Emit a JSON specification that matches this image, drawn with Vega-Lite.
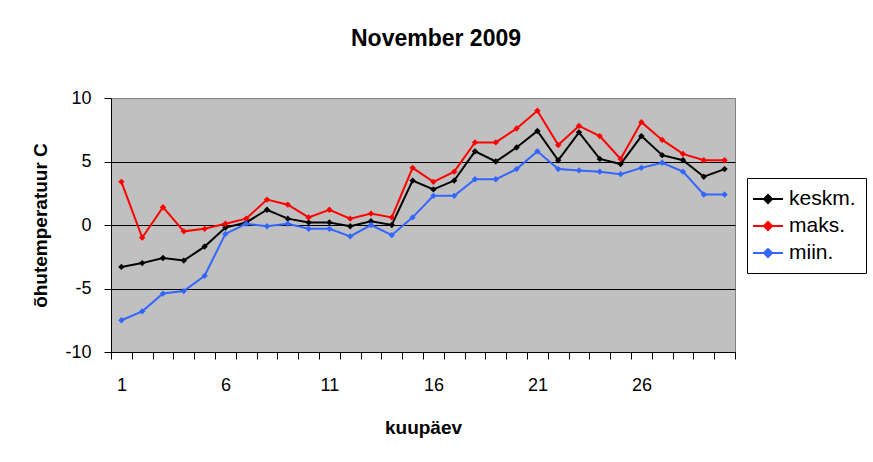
{
  "$schema": "https://vega.github.io/schema/vega-lite/v6.json",
  "autosize": "none",
  "width": 624,
  "height": 254,
  "padding": {"left": 111, "top": 98, "right": 138, "bottom": 110},
  "background": "white",
  "title": {
    "text": "November 2009",
    "font": "Liberation Sans",
    "fontSize": 23,
    "fontWeight": "bold",
    "color": "black",
    "anchor": "middle",
    "dx": 13,
    "offset": 38
  },
  "data": {
    "values": [
      {"day": 1, "series": "keskm.", "temp": -3.3}, {"day": 1, "series": "maks.", "temp": 3.4}, {"day": 1, "series": "miin.", "temp": -7.5},
      {"day": 2, "series": "keskm.", "temp": -3.0}, {"day": 2, "series": "maks.", "temp": -1.0}, {"day": 2, "series": "miin.", "temp": -6.8},
      {"day": 3, "series": "keskm.", "temp": -2.6}, {"day": 3, "series": "maks.", "temp": 1.4}, {"day": 3, "series": "miin.", "temp": -5.4},
      {"day": 4, "series": "keskm.", "temp": -2.8}, {"day": 4, "series": "maks.", "temp": -0.5}, {"day": 4, "series": "miin.", "temp": -5.2},
      {"day": 5, "series": "keskm.", "temp": -1.7}, {"day": 5, "series": "maks.", "temp": -0.3}, {"day": 5, "series": "miin.", "temp": -4.0},
      {"day": 6, "series": "keskm.", "temp": -0.2}, {"day": 6, "series": "maks.", "temp": 0.1}, {"day": 6, "series": "miin.", "temp": -0.7},
      {"day": 7, "series": "keskm.", "temp": 0.2}, {"day": 7, "series": "maks.", "temp": 0.5}, {"day": 7, "series": "miin.", "temp": 0.1},
      {"day": 8, "series": "keskm.", "temp": 1.2}, {"day": 8, "series": "maks.", "temp": 2.0}, {"day": 8, "series": "miin.", "temp": -0.1},
      {"day": 9, "series": "keskm.", "temp": 0.5}, {"day": 9, "series": "maks.", "temp": 1.6}, {"day": 9, "series": "miin.", "temp": 0.1},
      {"day": 10, "series": "keskm.", "temp": 0.2}, {"day": 10, "series": "maks.", "temp": 0.6}, {"day": 10, "series": "miin.", "temp": -0.3},
      {"day": 11, "series": "keskm.", "temp": 0.2}, {"day": 11, "series": "maks.", "temp": 1.2}, {"day": 11, "series": "miin.", "temp": -0.3},
      {"day": 12, "series": "keskm.", "temp": -0.1}, {"day": 12, "series": "maks.", "temp": 0.5}, {"day": 12, "series": "miin.", "temp": -0.9},
      {"day": 13, "series": "keskm.", "temp": 0.3}, {"day": 13, "series": "maks.", "temp": 0.9}, {"day": 13, "series": "miin.", "temp": 0.0},
      {"day": 14, "series": "keskm.", "temp": 0.0}, {"day": 14, "series": "maks.", "temp": 0.6}, {"day": 14, "series": "miin.", "temp": -0.8},
      {"day": 15, "series": "keskm.", "temp": 3.5}, {"day": 15, "series": "maks.", "temp": 4.5}, {"day": 15, "series": "miin.", "temp": 0.6},
      {"day": 16, "series": "keskm.", "temp": 2.8}, {"day": 16, "series": "maks.", "temp": 3.4}, {"day": 16, "series": "miin.", "temp": 2.3},
      {"day": 17, "series": "keskm.", "temp": 3.5}, {"day": 17, "series": "maks.", "temp": 4.2}, {"day": 17, "series": "miin.", "temp": 2.3},
      {"day": 18, "series": "keskm.", "temp": 5.8}, {"day": 18, "series": "maks.", "temp": 6.5}, {"day": 18, "series": "miin.", "temp": 3.6},
      {"day": 19, "series": "keskm.", "temp": 5.0}, {"day": 19, "series": "maks.", "temp": 6.5}, {"day": 19, "series": "miin.", "temp": 3.6},
      {"day": 20, "series": "keskm.", "temp": 6.1}, {"day": 20, "series": "maks.", "temp": 7.6}, {"day": 20, "series": "miin.", "temp": 4.4},
      {"day": 21, "series": "keskm.", "temp": 7.4}, {"day": 21, "series": "maks.", "temp": 9.0}, {"day": 21, "series": "miin.", "temp": 5.8},
      {"day": 22, "series": "keskm.", "temp": 5.1}, {"day": 22, "series": "maks.", "temp": 6.3}, {"day": 22, "series": "miin.", "temp": 4.4},
      {"day": 23, "series": "keskm.", "temp": 7.3}, {"day": 23, "series": "maks.", "temp": 7.8}, {"day": 23, "series": "miin.", "temp": 4.3},
      {"day": 24, "series": "keskm.", "temp": 5.2}, {"day": 24, "series": "maks.", "temp": 7.0}, {"day": 24, "series": "miin.", "temp": 4.2},
      {"day": 25, "series": "keskm.", "temp": 4.8}, {"day": 25, "series": "maks.", "temp": 5.2}, {"day": 25, "series": "miin.", "temp": 4.0},
      {"day": 26, "series": "keskm.", "temp": 7.0}, {"day": 26, "series": "maks.", "temp": 8.1}, {"day": 26, "series": "miin.", "temp": 4.5},
      {"day": 27, "series": "keskm.", "temp": 5.5}, {"day": 27, "series": "maks.", "temp": 6.7}, {"day": 27, "series": "miin.", "temp": 4.9},
      {"day": 28, "series": "keskm.", "temp": 5.1}, {"day": 28, "series": "maks.", "temp": 5.6}, {"day": 28, "series": "miin.", "temp": 4.2},
      {"day": 29, "series": "keskm.", "temp": 3.8}, {"day": 29, "series": "maks.", "temp": 5.1}, {"day": 29, "series": "miin.", "temp": 2.4},
      {"day": 30, "series": "keskm.", "temp": 4.4}, {"day": 30, "series": "maks.", "temp": 5.1}, {"day": 30, "series": "miin.", "temp": 2.4}
    ]
  },
  "encoding": {
    "x": {
      "field": "day",
      "type": "ordinal",
      "bandPosition": 0.5,
      "scale": {"type": "band", "paddingInner": 0, "paddingOuter": 0},
      "title": "kuupäev",
      "axis": {
        "labelAngle": 0,
        "labelExpr": "(datum.value - 1) % 5 == 0 ? datum.label : ''",
        "tickBand": "extent",
        "tickSize": 7,
        "tickColor": "black",
        "domainColor": "black",
        "labelPadding": 17,
        "titlePadding": 24
      }
    },
    "y": {
      "field": "temp",
      "type": "quantitative",
      "scale": {"domain": [-10, 10], "nice": false},
      "title": "õhutemperatuur C",
      "axis": {
        "values": [-10, -5, 0, 5, 10],
        "labelExpr": "'' + datum.value",
        "grid": true,
        "gridColor": {"condition": {"test": "datum.value == 10", "value": "#808080"}, "value": "black"},
        "gridOpacity": 1,
        "tickSize": 7,
        "tickColor": "black",
        "domainColor": "black",
        "labelPadding": 13,
        "titlePadding": 14
      }
    },
    "color": {
      "field": "series",
      "type": "nominal",
      "scale": {"domain": ["keskm.", "maks.", "miin."], "range": ["#000000", "#FF0000", "#3366FF"]},
      "legend": {
        "title": null,
        "orient": "none",
        "legendX": 636,
        "legendY": 80,
        "padding": 10,
        "strokeColor": "black",
        "fillColor": "white",
        "symbolType": "M-1.5,0H1.5M0,-0.4L0.4,0L0,0.4L-0.4,0ZM0,-0.2L0.2,0L0,0.2L-0.2,0Z",
        "symbolSize": 400,
        "symbolStrokeWidth": 2,
        "labelFontSize": 21,
        "labelFont": "Liberation Sans",
        "labelColor": "black",
        "labelOffset": 10,
        "rowPadding": 6
      }
    }
  },
  "layer": [
    {"mark": {"type": "line", "strokeWidth": 2}},
    {"mark": {"type": "point", "shape": "diamond", "filled": true, "size": 40, "opacity": 1}}
  ],
  "config": {
    "view": {"fill": "#C0C0C0", "stroke": "#808080", "strokeWidth": 1},
    "axis": {
      "labelFont": "Liberation Sans",
      "labelFontSize": 18,
      "labelColor": "black",
      "titleFont": "Liberation Sans",
      "titleFontSize": 19,
      "titleFontWeight": "bold",
      "titleColor": "black",
      "grid": false
    }
  }
}
